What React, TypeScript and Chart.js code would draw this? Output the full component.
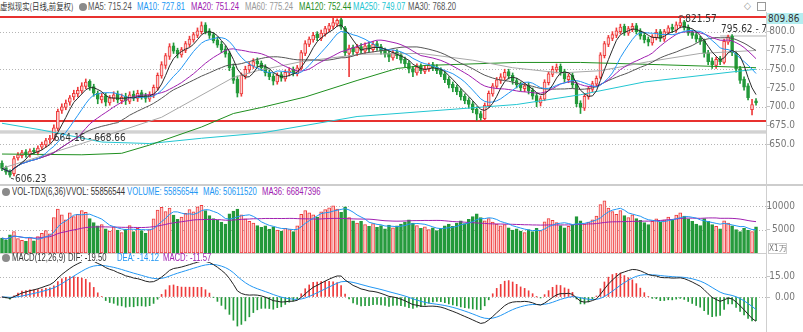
import React, { useEffect, useRef } from 'react';
import { Chart, registerables } from 'chart.js';

Chart.register(...registerables);

// ---------- data ----------
const opens = [
  625, 619, 614, 611, 632, 635, 640, 636, 642, 639,
  646, 649, 656, 657, 671, 695, 699, 706, 713, 717,
  721, 727, 734, 727, 718, 709, 715, 705, 711, 717,
  708, 714, 707, 717, 711, 719, 715, 710, 715, 725,
  741, 755, 767, 781, 775, 769, 775, 783, 789, 795,
  800, 809, 801, 796, 789, 783, 777, 771, 753, 737,
  717, 741, 749, 754, 761, 758, 753, 746, 741, 733,
  743, 737, 745, 750, 744, 751, 771, 783, 789, 797,
  791, 797, 803, 807, 810, 816, 805, 771, 779, 772,
  780, 774, 782, 776, 784, 780, 775, 771, 765, 773,
  769, 763, 758, 751, 745, 754, 747, 750, 756, 753,
  749, 744, 737, 730, 726, 721, 714, 709, 704, 697,
  691, 684, 701, 717, 727, 735, 739, 747, 742, 735,
  730, 724, 729, 722, 715, 705, 710, 732, 743, 749,
  754, 747, 736, 742, 730, 705, 698, 713, 723, 730,
  739, 768, 783, 791, 795, 800, 807, 798, 803, 808,
  801, 795, 790, 785, 792, 800, 790, 799, 806, 802,
  808, 813, 806, 799, 796, 791, 788, 772, 761, 755,
  764, 759, 786, 794, 771, 751, 737, 728, 696, 708,
];
const closes = [
  618, 613, 609, 631, 636, 639, 636, 641, 640, 645,
  650, 655, 658, 672, 694, 700, 705, 712, 718, 722,
  728, 733, 726, 718, 710, 714, 706, 712, 716, 709,
  713, 708, 716, 712, 718, 714, 711, 716, 726, 742,
  756, 768, 780, 774, 770, 776, 784, 790, 796, 801,
  808, 800, 795, 788, 782, 776, 770, 752, 735, 718,
  742, 750, 755, 760, 757, 752, 745, 740, 734, 742,
  738, 746, 748, 745, 752, 772, 784, 790, 795, 792,
  798, 804, 808, 812, 815, 806, 772, 778, 773, 779,
  775, 781, 777, 783, 779, 774, 770, 766, 772, 768,
  762, 757, 750, 746, 753, 748, 751, 755, 752, 748,
  743, 736, 729, 725, 720, 713, 708, 703, 696, 690,
  685, 702, 718, 728, 736, 740, 746, 741, 734, 729,
  725, 728, 721, 714, 706, 711, 733, 744, 750, 753,
  746, 737, 741, 729, 704, 699, 714, 724, 731, 738,
  769, 784, 792, 796, 801, 806, 799, 804, 807, 800,
  794, 789, 786, 793, 799, 791, 800, 805, 803, 809,
  812, 805, 798, 795, 790, 787, 771, 760, 756, 763,
  760, 787, 793, 772, 750, 735, 726, 712, 703, 705,
];
const highs = [
  628, 621, 616, 634, 639, 642, 643, 644, 645, 648,
  653, 658, 662, 676, 697, 704, 709, 715, 722, 726,
  732, 737, 736, 730, 721, 718, 718, 715, 720, 721,
  717, 718, 720, 721, 722, 722, 718, 720, 729, 745,
  760, 771, 784, 785, 778, 779, 787, 794, 799, 805,
  813, 812, 804, 799, 793, 787, 781, 774, 757, 741,
  745, 754, 759, 764, 765, 761, 756, 749, 744, 745,
  746, 749, 752, 753, 755, 775, 788, 793, 799, 800,
  802, 807, 811, 818, 817, 818, 807, 782, 782, 783,
  784, 785, 786, 787, 787, 783, 778, 774, 775, 776,
  772, 766, 761, 754, 757, 757, 755, 758, 759, 756,
  752, 747, 740, 733, 729, 724, 717, 712, 707, 700,
  694, 705, 721, 731, 739, 744, 750, 750, 745, 738,
  733, 731, 732, 725, 718, 714, 736, 747, 754, 757,
  757, 750, 744, 745, 733, 708, 717, 727, 734, 741,
  772, 787, 795, 800, 805, 810, 810, 807, 811, 811,
  804, 798, 793, 796, 803, 803, 803, 808, 810, 813,
  821.57, 815, 809, 802, 799, 794, 790, 775, 765, 766,
  767, 790, 795.62, 796, 774, 754, 740, 731, 710, 711,
];
const lows = [
  615, 610, 606.23, 608, 629, 632, 633, 633, 637, 636,
  643, 646, 651, 655, 668, 691, 696, 702, 709, 713,
  718, 724, 722, 714, 704, 705, 701, 702, 707, 705,
  704, 703, 704, 708, 707, 710, 706, 707, 712, 722,
  738, 751, 763, 771, 765, 766, 772, 780, 786, 792,
  797, 797, 791, 785, 779, 772, 766, 748, 731, 713,
  714, 737, 745, 751, 753, 748, 741, 736, 729, 730,
  734, 734, 741, 741, 741, 749, 768, 780, 786, 788,
  788, 794, 800, 804, 807, 803, 768, 740, 769, 768,
  771, 771, 773, 773, 775, 770, 766, 760, 762, 764,
  758, 753, 745, 740, 742, 744, 744, 747, 748, 744,
  740, 732, 725, 720, 716, 709, 704, 698, 692, 682,
  682, 682, 699, 714, 724, 731, 736, 737, 730, 725,
  721, 720, 717, 710, 700, 701, 708, 729, 740, 745,
  742, 733, 732, 725, 700, 691, 695, 710, 720, 727,
  737, 765, 780, 788, 792, 797, 795, 795, 800, 797,
  790, 785, 781, 782, 789, 787, 787, 796, 799, 799,
  805, 802, 795, 791, 786, 783, 766, 756, 751, 751,
  756, 757, 783, 768, 746, 731, 722, 709, 689, 702,
];
// volume in units of 10k shares
const volumes = [
  3200, 2800, 3900, 4600, 3100, 2700, 2500, 3300, 2600, 3500,
  4200, 4800, 4100, 7600, 9400, 8200, 7100, 8600, 7800, 8300,
  9100, 8700, 7400, 6500, 5800, 6100, 5200, 4700, 5600, 4900,
  4400, 5100, 5900, 4600, 5300, 4800, 4200, 5000, 7300, 9200,
  9800, 8900, 9600, 8100, 7200, 7700, 8500, 9300, 8800, 9900,
  10200, 9100, 8000, 7400, 7000, 6600, 6200, 8400, 9000, 9400,
  8200, 7300, 6800, 6400, 5900, 5500, 5800, 5100, 5600, 4900,
  4700, 5300, 5000, 4600, 5800, 8300, 9100, 8600, 8200, 7700,
  8800, 9300, 9700, 10100, 9400, 8700, 9900, 7600, 6900, 6400,
  6800, 6100, 5700, 6300, 5500, 5900, 5200, 6000, 5400, 5800,
  6200, 6600, 7100, 6400, 5900, 5300, 5600, 5000, 5400, 4800,
  5300, 5800, 6200, 5700, 6400, 6900, 6300, 7200, 7800, 8400,
  7600, 6900, 7400, 6600, 6200, 5800, 6100, 5400, 4900, 5200,
  4700, 4400, 5000, 4600, 5300, 4800, 6700, 7400, 7000, 6500,
  5900, 5400, 5700, 6100, 7800, 6900, 6200, 6600, 7100, 7900,
  10400, 11200, 9600, 8900, 8300, 9100, 8000, 7600, 8200, 7400,
  7000, 6500, 6100, 6800, 7300, 6600, 7100, 7700, 7200, 8100,
  8600, 7900, 7300, 6800, 6200, 5900, 7400, 6800, 6100, 5700,
  5200, 6900, 6400, 5800, 5000, 4600, 5300, 4900, 4600, 5586,
];
// long moving averages: [bar index, value]
const ma60Points = [[0, 618], [20, 651], [40, 686], [58, 739], [64, 748], [75, 760], [90, 770], [105, 771], [118, 762], [128, 752], [140, 745], [150, 748], [162, 760], [175, 771], [189, 775]];
const ma120Points = [[0, 637], [20, 636], [30, 638], [37, 649], [50, 673], [58, 691], [65, 699], [76, 713], [89, 735], [99, 751], [106, 755], [129, 759], [145, 759], [165, 756], [189, 752]];
const ma250Points = [[0, 678], [10, 669], [25, 653], [37, 651], [50, 658], [65, 665], [89, 687], [114, 697], [129, 703], [145, 716], [161, 733], [189, 750]];

const priceTicks = [650, 675, 700, 725, 750, 775, 800];
const priceGrid = [650, 700, 750, 800];
const volTicks = [5000, 10000];
const macdTicks = [0, 15];
const redLines = [819.2, 681.4];
const grayBand = [664.16, 668.66];
const topBand = [793, 795.62];

// ---------- helpers ----------
const N = closes.length;
const EXTRA = 2;
const labels = Array.from({ length: N + EXTRA }, (_, i) => String(i));
const FONT = '"DejaVu Sans Condensed", "Liberation Sans", sans-serif';
const LFONT = '"Liberation Sans", Arial, sans-serif';
const CJK = '"Noto Sans CJK SC", sans-serif';
const RED = '#ee3b3b';
const RED_FILL = '#fcd2d2';
const GREEN = '#23993a';
const up = closes.map((c, i) => c >= opens[i]);

const sma = (arr: number[], n: number) =>
  arr.map((_, i) => {
    const w = arr.slice(Math.max(0, i - n + 1), i + 1);
    return w.reduce((a, b) => a + b, 0) / w.length;
  });
const ema = (arr: number[], n: number) => {
  const k = 2 / (n + 1);
  let e = arr[0];
  return arr.map((v, i) => (e = i === 0 ? v : e + k * (v - e)));
};
const sparse = (pts: number[][]) => {
  const out: (number | null)[] = new Array(N).fill(null);
  pts.forEach(([i, v]) => (out[i] = v));
  return out;
};

const dif = (() => {
  const e12 = ema(closes, 12);
  const e26 = ema(closes, 26);
  return e12.map((v, i) => v - e26[i]);
})();
const dea = ema(dif, 9);
const macdBar = dif.map((v, i) => 2 * (v - dea[i]));

const lineDs = (data: (number | null)[], color: string, order = 0, width = 1) => ({
  type: 'line' as const,
  data,
  borderColor: color,
  borderWidth: width,
  pointRadius: 0,
  tension: 0,
  spanGaps: true,
  order,
});

const yAxis = (min: number, max: number, ticks: number[], fmt: (v: number) => string) => ({
  position: 'right' as const,
  min,
  max,
  afterFit: (s: any) => {
    s.width = 29;
    s.paddingTop = 0;
    s.paddingBottom = 0;
  },
  afterBuildTicks: (s: any) => {
    s.ticks = ticks.map((v) => ({ value: v }));
  },
  ticks: {
    font: { size: 10, family: FONT },
    color: '#777',
    crossAlign: 'far' as const,
    padding: 0,
    callback: (v: any) => fmt(Number(v)),
  },
  grid: { drawOnChartArea: false, drawTicks: true, tickLength: 4, color: '#c4c4c4' },
  border: { display: true, color: '#cfcfcf' },
});

const baseOptions = (y: any) => ({
  responsive: false,
  animation: false as const,
  events: [],
  layout: { padding: { left: 0, right: 8, top: 0, bottom: 0 } },
  plugins: { legend: { display: false }, tooltip: { enabled: false } },
  scales: {
    x: { type: 'category' as const, display: false, offset: true, grid: { display: false } },
    y,
  },
});

const dotted = (chart: any, values: number[]) => {
  const { ctx, chartArea: a, scales } = chart;
  ctx.save();
  ctx.strokeStyle = '#b5b5b5';
  ctx.lineWidth = 1;
  ctx.setLineDash([1, 2]);
  values.forEach((v) => {
    const py = Math.round(scales.y.getPixelForValue(v)) + 0.5;
    ctx.beginPath();
    ctx.moveTo(a.left, py);
    ctx.lineTo(a.right, py);
    ctx.stroke();
  });
  ctx.restore();
};

// ---------- component ----------
function useChart(ref: React.RefObject<HTMLCanvasElement>, make: (c: HTMLCanvasElement) => Chart) {
  useEffect(() => {
    if (!ref.current) return;
    const ch = make(ref.current);
    return () => ch.destroy();
  }, []);
}

export default function App() {
  const mainRef = useRef<HTMLCanvasElement>(null);
  const volRef = useRef<HTMLCanvasElement>(null);
  const macdRef = useRef<HTMLCanvasElement>(null);

  useEffect(() => {
    document.body.style.margin = '0';
  }, []);

  useChart(mainRef, (el) => {
    const annoPlugin = {
      id: 'mainAnno',
      beforeDatasetsDraw(chart: any) {
        dotted(chart, priceGrid);
        const { ctx, chartArea: a, scales } = chart;
        const y = scales.y;
        const x = scales.x;
        ctx.save();
        const g1 = y.getPixelForValue(grayBand[1]);
        const g0 = y.getPixelForValue(grayBand[0]);
        ctx.fillStyle = '#d2d2d2';
        ctx.fillRect(a.left, g1, a.right - a.left, g0 - g1);
        const t1 = y.getPixelForValue(topBand[1]);
        const t0 = y.getPixelForValue(topBand[0]);
        const tx = x.getPixelForValue(180);
        ctx.fillStyle = '#d8d8d8';
        ctx.fillRect(tx, t1, a.right - tx, Math.max(1, t0 - t1));
        ctx.fillStyle = '#e8312f';
        redLines.forEach((v) => {
          const py = Math.round(y.getPixelForValue(v));
          ctx.fillRect(a.left, py - 1, a.right - a.left, 2);
        });
        ctx.restore();
      },
      afterDatasetsDraw(chart: any) {
        const { ctx, chartArea: a, scales } = chart;
        const y = scales.y;
        const x = scales.x;
        ctx.save();
        ctx.beginPath();
        ctx.rect(a.left, a.top - 12, a.right - a.left, a.bottom - a.top + 12);
        ctx.clip();
        ctx.font = `10px ${FONT}`;
        ctx.fillStyle = '#333';
        ctx.textBaseline = 'middle';
        ctx.strokeStyle = '#444';
        ctx.lineWidth = 1;
        let li = 0;
        lows.forEach((v, i) => { if (v < lows[li]) li = i; });
        const lx = x.getPixelForValue(li);
        const ly = y.getPixelForValue(lows[li]);
        ctx.beginPath();
        ctx.moveTo(lx + 1, ly + 1);
        ctx.lineTo(lx + 4, ly + 2);
        ctx.stroke();
        ctx.fillText(lows[li].toFixed(2), lx + 5, ly + 2);
        let hi = 0;
        highs.forEach((v, i) => { if (v > highs[hi]) hi = i; });
        const hx = x.getPixelForValue(hi);
        const hy = y.getPixelForValue(highs[hi]);
        ctx.beginPath();
        ctx.moveTo(hx - 2, hy + 2);
        ctx.lineTo(hx + 2, hy);
        ctx.lineTo(hx + 4, hy + 3);
        ctx.stroke();
        ctx.fillText(highs[hi].toFixed(2), hx + 5, hy + 4);
        ctx.fillText(`${grayBand[0].toFixed(2)} - ${grayBand[1].toFixed(2)}`, x.getPixelForValue(13), y.getPixelForValue(grayBand[0]) + 5);
        ctx.fillText(`${topBand[1].toFixed(2)} - ${topBand[0].toFixed(2)}`, x.getPixelForValue(180) + 1, y.getPixelForValue(topBand[1]) - 6);
        ctx.restore();
      },
    };
    return new Chart(el, {
      type: 'bar',
      data: {
        labels,
        datasets: [
          lineDs(sma(closes, 5), '#2a2a2a', 0),
          lineDs(sma(closes, 10), '#2196f3', 0),
          lineDs(sma(closes, 20), '#a020b0', 0),
          lineDs(sma(closes, 30), '#555555', 0),
          lineDs(sparse(ma60Points), '#a8a8a8', 0),
          lineDs(sparse(ma120Points), '#1f8f1f', 0),
          lineDs(sparse(ma250Points), '#22c6d2', 0),
          {
            type: 'bar' as const,
            data: opens.map((o, i) => [o, closes[i]]),
            backgroundColor: up.map((u) => (u ? RED_FILL : GREEN)),
            borderColor: up.map((u) => (u ? RED : GREEN)),
            borderWidth: 1,
            borderSkipped: false,
            barThickness: 3,
            minBarLength: 1,
            grouped: false,
            order: 1,
          },
          {
            type: 'bar' as const,
            data: lows.map((l, i) => [l, highs[i]]),
            backgroundColor: up.map((u) => (u ? RED : GREEN)),
            borderWidth: 0,
            barThickness: 1,
            grouped: false,
            order: 2,
          },
        ],
      },
      options: baseOptions(yAxis(597.1, 826.2, priceTicks, (v) => v.toFixed(1))) as any,
      plugins: [annoPlugin],
    } as any);
  });

  useChart(volRef, (el) =>
    new Chart(el, {
      type: 'bar',
      data: {
        labels,
        datasets: [
          lineDs(sma(volumes, 6), '#2196f3', 0),
          lineDs(sma(volumes, 36), '#a020b0', 0),
          {
            type: 'bar' as const,
            data: volumes,
            backgroundColor: up.map((u) => (u ? RED_FILL : GREEN)),
            borderColor: up.map((u) => (u ? RED : GREEN)),
            borderWidth: 1,
            borderSkipped: false,
            barThickness: 3,
            grouped: false,
            order: 1,
          },
        ],
      },
      options: baseOptions(yAxis(0, 12000, volTicks, (v) => String(v))) as any,
      plugins: [{ id: 'volGrid', beforeDatasetsDraw: (c: any) => dotted(c, volTicks) }],
    } as any)
  );

  useChart(macdRef, (el) =>
    new Chart(el, {
      type: 'bar',
      data: {
        labels,
        datasets: [
          lineDs(dif, '#222222', 0),
          lineDs(dea, '#2196f3', 0),
          {
            type: 'bar' as const,
            data: macdBar,
            backgroundColor: macdBar.map((v) => (v >= 0 ? RED : GREEN)),
            borderWidth: 0,
            barThickness: 1,
            grouped: false,
            order: 1,
          },
        ],
      },
      options: baseOptions(yAxis(-25.9, 25.9, macdTicks, (v) => v.toFixed(2))) as any,
      plugins: [{ id: 'macdGrid', beforeDatasetsDraw: (c: any) => dotted(c, macdTicks) }],
    } as any)
  );

  const lg = (left: number, top: number, s: string, color: string) => (
    <span
      style={{
        position: 'absolute',
        left,
        top,
        color,
        whiteSpace: 'nowrap',
        font: `10px ${LFONT}`,
        lineHeight: '12px',
        transform: 'scaleX(0.77)',
        transformOrigin: 'left center',
      }}
    >
      {s}
    </span>
  );
  const dot = (left: number, top: number) => (
    <span style={{ position: 'absolute', left, top, width: 8, height: 8, borderRadius: 4, background: '#8a8a8a' }} />
  );

  return (
    <div style={{ position: 'relative', width: 803, height: 332, background: '#fff', overflow: 'hidden', font: `10px ${FONT}`, lineHeight: '12px' }}>
      <span
        style={{
          position: 'absolute', left: 0, top: 1, color: '#333', whiteSpace: 'nowrap',
          font: `9px ${CJK}`, lineHeight: '12px', transform: 'scaleX(0.82)', transformOrigin: 'left center',
        }}
      >
        虚拟现实(日线,前复权)
      </span>
      {dot(79, 3)}
      {lg(88, 1, 'MA5: 715.24', '#555')}
      {lg(137, 1, 'MA10: 727.81', '#2196f3')}
      {lg(191, 1, 'MA20: 751.24', '#a020b0')}
      {lg(245, 1, 'MA60: 775.24', '#999')}
      {lg(299, 1, 'MA120: 752.44', '#1f8f1f')}
      {lg(353, 1, 'MA250: 749.07', '#22c6d2')}
      {lg(408, 1, 'MA30: 768.20', '#555')}
      <span style={{ position: 'absolute', left: 744, top: 0, color: '#999', fontSize: 10 }}>◇</span>
      <span style={{ position: 'absolute', left: 757, top: 2, width: 7, height: 7, border: '1px solid #999' }} />

      <canvas ref={mainRef} width={803} height={172} style={{ position: 'absolute', left: 0, top: 12 }} />
      <div style={{ position: 'absolute', left: 767, top: 13, width: 35, height: 11, background: '#b4eef0', color: '#333', fontSize: 10, lineHeight: '11px', paddingLeft: 1 }}>809.86</div>

      <div style={{ position: 'absolute', left: 0, top: 184, width: 803, height: 2, background: '#cdcdcd' }} />

      {dot(2, 188)}
      {lg(12, 186, 'VOL-TDX(6,36)', '#333')}
      {lg(66, 186, 'VVOL: 55856544', '#333')}
      {lg(127, 186, 'VOLUME: 55856544', '#2196f3')}
      {lg(203, 186, 'MA6: 50611520', '#2196f3')}
      {lg(262, 186, 'MA36: 66847396', '#a020b0')}
      <canvas ref={volRef} width={803} height={56} style={{ position: 'absolute', left: 0, top: 197 }} />
      <div style={{ position: 'absolute', left: 768, top: 243, width: 17, height: 9, border: '1px solid #ccc', fontSize: 8, lineHeight: '9px', color: '#777', textAlign: 'center', whiteSpace: 'nowrap', overflow: 'hidden' }}>X1万</div>

      <div style={{ position: 'absolute', left: 0, top: 253, width: 766, height: 1, background: '#cdcdcd' }} />

      {dot(2, 254)}
      {lg(12, 252, 'MACD(12,26,9)', '#333')}
      {lg(68, 252, 'DIF: -19.50', '#333')}
      {lg(117, 252, 'DEA: -14.12', '#2196f3')}
      {lg(163, 252, 'MACD: -11.57', '#a020b0')}
      <canvas ref={macdRef} width={803} height={70} style={{ position: 'absolute', left: 0, top: 262 }} />

      <div style={{ position: 'absolute', left: 766, top: 12, width: 1, height: 320, background: '#cfcfcf' }} />
    </div>
  );
}
